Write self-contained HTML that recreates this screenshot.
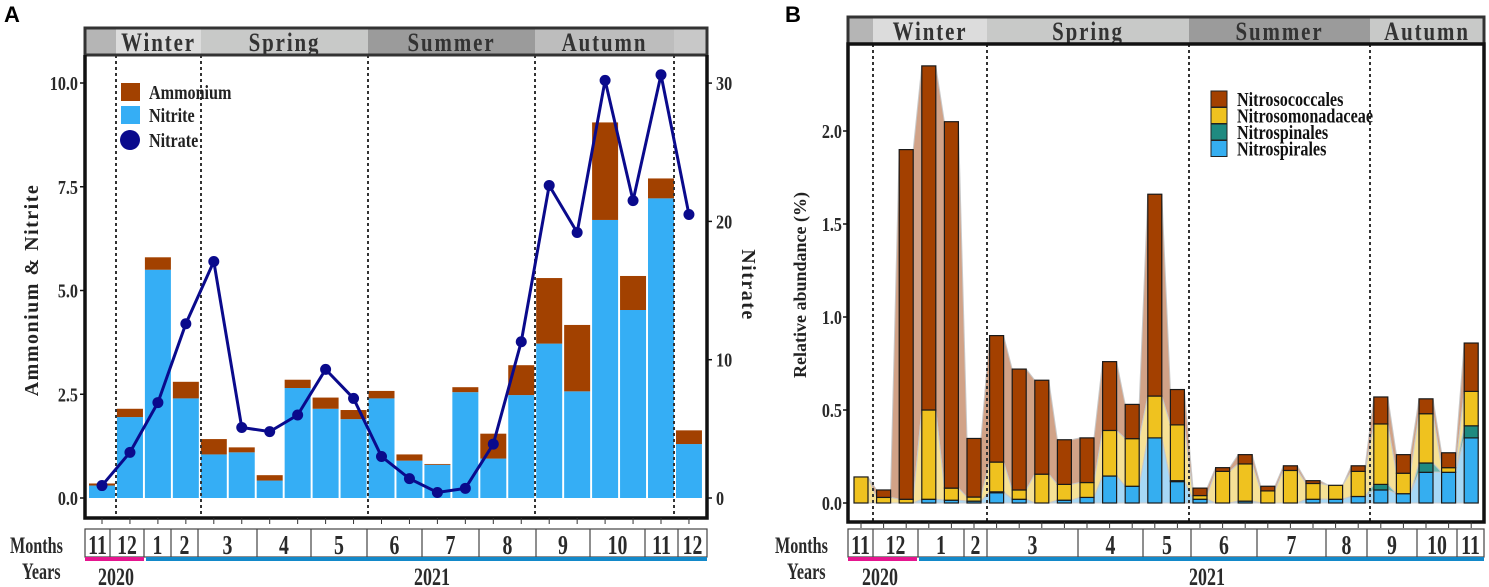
<!DOCTYPE html>
<html><head><meta charset="utf-8"><style>
html,body{margin:0;padding:0;background:#fff;}
svg{display:block;font-family:"Liberation Serif",serif;}
</style></head><body>
<svg id="c" width="1489" height="587" viewBox="0 0 1489 587" xmlns="http://www.w3.org/2000/svg"></svg>
<script>
// ---------- Panel A data ----------
const aMonths = ["11","12","1","2","3","3","4","4","5","5","6","6","7","7","8","8","9","9","10","10","11","12"];
const aNitrite = [0.3,1.95,5.5,2.4,1.05,1.1,0.42,2.65,2.15,1.9,2.4,0.9,0.8,2.55,0.95,2.48,3.72,2.57,6.7,4.53,7.22,1.3];
const aAmmonium = [0.05,0.2,0.3,0.4,0.37,0.12,0.13,0.2,0.27,0.22,0.18,0.15,0.02,0.12,0.6,0.72,1.58,1.6,2.35,0.82,0.48,0.33];
const aNitrate = [0.9,3.3,6.9,12.6,17.1,5.1,4.8,6.0,9.3,7.2,3.0,1.4,0.4,0.7,3.9,11.3,22.6,19.2,30.2,21.5,30.6,20.5];
const aLeftTicks = [0,2.5,5,7.5,10];
const aLeftTickLabels = ["0.0","2.5","5.0","7.5","10.0"];
const aRightTicks = [0,10,20,30];
// ---------- Panel B data ----------
const bSpir = [0,0,0,0.02,0.015,0.01,0.055,0.02,0,0.015,0.03,0.145,0.09,0.35,0.115,0.02,0,0.01,0,0,0.02,0.02,0.035,0.07,0.05,0.165,0.165,0.35];
const bSpin = [0,0,0,0,0,0,0.005,0,0,0,0,0,0,0,0.005,0,0,0,0,0,0,0,0,0.03,0,0.05,0,0.065];
const bMona = [0.14,0.03,0.02,0.48,0.065,0.022,0.16,0.05,0.155,0.085,0.08,0.245,0.256,0.225,0.30,0.02,0.17,0.2,0.065,0.175,0.085,0.075,0.135,0.325,0.11,0.265,0.025,0.185];
const bCocc = [0,0.04,1.88,1.85,1.97,0.315,0.68,0.65,0.505,0.24,0.24,0.37,0.184,1.085,0.19,0.04,0.02,0.05,0.025,0.025,0.015,0,0.03,0.145,0.1,0.08,0.08,0.26];
const bTicks = [0,0.5,1,1.5,2];
const bTickLabels = ["0.0","0.5","1.0","1.5","2.0"];

const NS="http://www.w3.org/2000/svg";
const svg=document.getElementById('c');
function mk(tag,attrs,parent,text){const e=document.createElementNS(NS,tag);for(const k in attrs)e.setAttribute(k,attrs[k]);if(text!==undefined)e.textContent=text;(parent||svg).appendChild(e);return e;}
function ctext(x,y,txt,size,parent,anchor,sx,sy,extra){
  const a={transform:`translate(${x},${y}) scale(${sx},${sy})`,'text-anchor':anchor||'middle','font-weight':'bold','font-size':size,fill:'#2a2a2a'};
  if(extra)for(const k in extra)a[k]=extra[k];
  return mk('text',a,parent,txt);
}

const axA = i=>102+i*27.95;
const yA = v=>498-v*41.5;
const yAR = v=>498-v*13.83;
const axB = i=>861+i*22.6;
const yB = v=>503-v*186;

// ===== Panel A =====
let t;
t=mk('text',{x:4,y:22,'font-family':'Liberation Sans, sans-serif','font-weight':'bold','font-size':22},svg,'A');


function strip(x0,x1,y0,y1,segs,names){
  const g=mk('g',{});
  
  segs.forEach(s=>{
    const r=mk('rect',{x:s[0],y:y0,width:s[1]-s[0],height:y1-y0,fill:s[2]},g);
    
    if(s[3]){const tx=ctext((s[0]+s[1])/2,y1-4,s[3],22,g,'middle',0.95,1.2,{'letter-spacing':2,fill:'#333'});
      }
  });
  mk('rect',{x:x0,y:y0,width:x1-x0,height:y1-y0,fill:'none',stroke:'#333','stroke-width':3},g);
}
strip(85,707,28,55,[[85,116,'#b5b5b5'],[116,201,'#dcdcdc','Winter'],[201,368,'#c8c9c8','Spring'],[368,535,'#9b9b9b','Summer'],[535,674,'#bdbdbd','Autumn'],[674,707,'#c8c8c8']],'season-strip-a');

const gA=mk('g',{});
aNitrite.forEach((n,i)=>{
  const x=axA(i)-13;
  let r=mk('rect',{x:x,y:yA(n),width:26,height:yA(0)-yA(n),fill:'#35aef5'},gA);
  
  r=mk('rect',{x:x,y:yA(n+aAmmonium[i]),width:26,height:yA(n)-yA(n+aAmmonium[i]),fill:'#a24100'},gA);
  
});
[116,201,368,535,674].forEach(x=>{const l=mk('line',{x1:x,y1:55,x2:x,y2:518,stroke:'#333','stroke-width':2,'stroke-dasharray':'3,3'});
  });
const pts=aNitrate.map((v,i)=>axA(i)+','+yAR(v)).join(' ');
let pl=mk('polyline',{points:pts,fill:'none',stroke:'#0a0a8c','stroke-width':3});

aNitrate.forEach((v,i)=>{const c=mk('circle',{cx:axA(i),cy:yAR(v),r:5.5,fill:'#0a0a8c'});
  });
let fr=mk('path',{d:'M85,55 V518 H707 V55',fill:'none',stroke:'#111','stroke-width':3.5});

aLeftTicks.forEach((v,i)=>{
  mk('line',{x1:80,x2:85,y1:yA(v),y2:yA(v),stroke:'#111','stroke-width':1.5});
  const tx=ctext(78,yA(v)+7,aLeftTickLabels[i],17,svg,'end',0.95,1.2);
  
});
aRightTicks.forEach(v=>{
  mk('line',{x1:707,x2:712,y1:yAR(v),y2:yAR(v),stroke:'#111','stroke-width':1.5});
  const tx=ctext(716,yAR(v)+7,String(v),17,svg,'start',0.95,1.2);
  
});
aNitrate.forEach((v,i)=>mk('line',{x1:axA(i),x2:axA(i),y1:518,y2:524,stroke:'#333','stroke-width':1}));
t=mk('text',{transform:'translate(38,290) rotate(-90)','text-anchor':'middle','font-weight':'bold','font-size':20,'letter-spacing':1.5,fill:'#222'},svg,'Ammonium & Nitrite');

t=mk('text',{transform:'translate(742,285) rotate(90)','text-anchor':'middle','font-weight':'bold','font-size':20,'letter-spacing':1.5,fill:'#222'},svg,'Nitrate');

const lgA=mk('g',{});
mk('rect',{x:121,y:83,width:19,height:18,fill:'#a24100'},lgA);
ctext(149,99,'Ammonium',17,lgA,'start',0.95,1.2,{fill:'#222'});
mk('rect',{x:121,y:106,width:19,height:18,fill:'#35aef5'},lgA);
ctext(149,122,'Nitrite',17,lgA,'start',0.95,1.2,{fill:'#222'});
mk('circle',{cx:130,cy:140,r:10,fill:'#0a0a8c'},lgA);
ctext(149,147,'Nitrate',17,lgA,'start',0.95,1.2,{fill:'#222'});

function monthsRow(x0,x1,divs,labels,pinkEnd,y2020x,y2021x,monthsX,name){
  const g=mk('g',{});
  mk('rect',{x:x0,y:529,width:x1-x0,height:28,fill:'#fff',stroke:'#444','stroke-width':1.2},g);
  const edges=[x0,...divs,x1];
  divs.forEach(d=>mk('line',{x1:d,x2:d,y1:529,y2:557,stroke:'#444','stroke-width':1.2},g));
  labels.forEach((l,i)=>{const tx=ctext((edges[i]+edges[i+1])/2,554,l,22,g,'middle',0.9,1.25);
    });
  ctext(monthsX,553,'Months',19,g,'start',0.85,1.25);
  ctext(monthsX+12,579,'Years',19,g,'start',0.85,1.25);
  mk('rect',{x:x0,y:557,width:pinkEnd-x0,height:4,fill:'#e5168f'},g);
  mk('rect',{x:pinkEnd+2,y:557,width:x1-pinkEnd-2,height:4,fill:'#1389c9'},g);
  ctext(y2020x,585,'2020',20,g,'middle',0.9,1.25);
  ctext(y2021x,585,'2021',20,g,'middle',0.9,1.25);
}
monthsRow(85,707,[110,144,171,198,257,311,367,422,479,536,590,645,678],["11","12","1","2","3","4","5","6","7","8","9","10","11","12"],144,116,432,10,'months-years-axis-a');

// ===== Panel B =====
t=mk('text',{x:785,y:22,'font-family':'Liberation Sans, sans-serif','font-weight':'bold','font-size':22},svg,'B');

strip(848,1484,17,44,[[848,873,'#b5b5b5'],[873,987,'#dcdcdc','Winter'],[987,1189,'#c8c9c8','Spring'],[1189,1370,'#9b9b9b','Summer'],[1370,1484,'#c8c9c8','Autumn']],'season-strip-b');

const c1=bSpir.map(v=>v), c2=bSpir.map((v,i)=>v+bSpin[i]), c3=c2.map((v,i)=>v+bMona[i]), c4=c3.map((v,i)=>v+bCocc[i]);
function area(top,bot,fill,name){
  let d='M';
  top.forEach((v,i)=>{d+=(axB(i)-7)+','+yB(v)+' L'+(axB(i)+7)+','+yB(v)+' L';});
  for(let i=bot.length-1;i>=0;i--){d+=(axB(i)+7)+','+yB(bot[i])+' L'+(axB(i)-7)+','+yB(bot[i])+(i>0?' L':' Z');}
  const p=mk('path',{d:d,fill:fill,stroke:'#c9c9c9','stroke-width':1,'stroke-linejoin':'round'});
}
area(c4,c3,'#d1a287','area-nitrosococcales');
area(c3,c2,'#f6e196','area-nitrosomonadaceae');
area(c2,c1,'#6fb9b0','area-nitrospinales');
area(c1,c1.map(()=>0),'#a6d8f6','area-nitrospirales');
[873,987,1189,1370].forEach(x=>{const l=mk('line',{x1:x,y1:44,x2:x,y2:522,stroke:'#333','stroke-width':2,'stroke-dasharray':'3,3'});
  });
const gB=mk('g',{});
const layers=[[c1.map(()=>0),c1,'#35aef0','nitrospirales-bar'],[c1,c2,'#1f8a80','nitrospinales-bar'],[c2,c3,'#efc21f','nitrosomonadaceae-bar'],[c3,c4,'#a34000','nitrosococcales-bar']];
layers.forEach(L=>{
  L[0].forEach((b,i)=>{const tp=L[1][i];if(tp-b<=0)return;
    const r=mk('rect',{x:axB(i)-7,y:yB(tp),width:14,height:yB(b)-yB(tp),fill:L[2],stroke:'#1a1a1a','stroke-width':1.2},gB);
    });
});
fr=mk('rect',{x:848,y:44,width:636,height:478,fill:'none',stroke:'#111','stroke-width':3.5});

bTicks.forEach((v,i)=>{
  mk('line',{x1:843,x2:848,y1:yB(v),y2:yB(v),stroke:'#111','stroke-width':1.5});
  const tx=ctext(842,yB(v)+7,bTickLabels[i],17,svg,'end',0.95,1.2);
  
});
c4.forEach((v,i)=>mk('line',{x1:axB(i),x2:axB(i),y1:522,y2:528,stroke:'#333','stroke-width':1}));
t=mk('text',{transform:'translate(806,285) rotate(-90)','text-anchor':'middle','font-weight':'bold','font-size':18,fill:'#222'},svg,'Relative abundance (%)');

const lgB=mk('g',{});
[['#a34000','Nitrosococcales'],['#efc21f','Nitrosomonadaceae'],['#1f8a80','Nitrospinales'],['#35aef0','Nitrospirales']].forEach((e,i)=>{
  mk('rect',{x:1211,y:91+i*16.5,width:16,height:16,fill:e[0],stroke:'#222','stroke-width':1},lgB);
  const tx=ctext(1237,106+i*16.5,e[1],17,lgB,'start',0.95,1.15,{fill:'#111'});
  
});
monthsRow(848,1484,[873,918,964,987,1078,1143,1191,1257,1326,1367,1417,1457],["11","12","1","2","3","4","5","6","7","8","9","10","11"],917,880,1207,775,'months-years-axis-b');
</script>
</body></html>
